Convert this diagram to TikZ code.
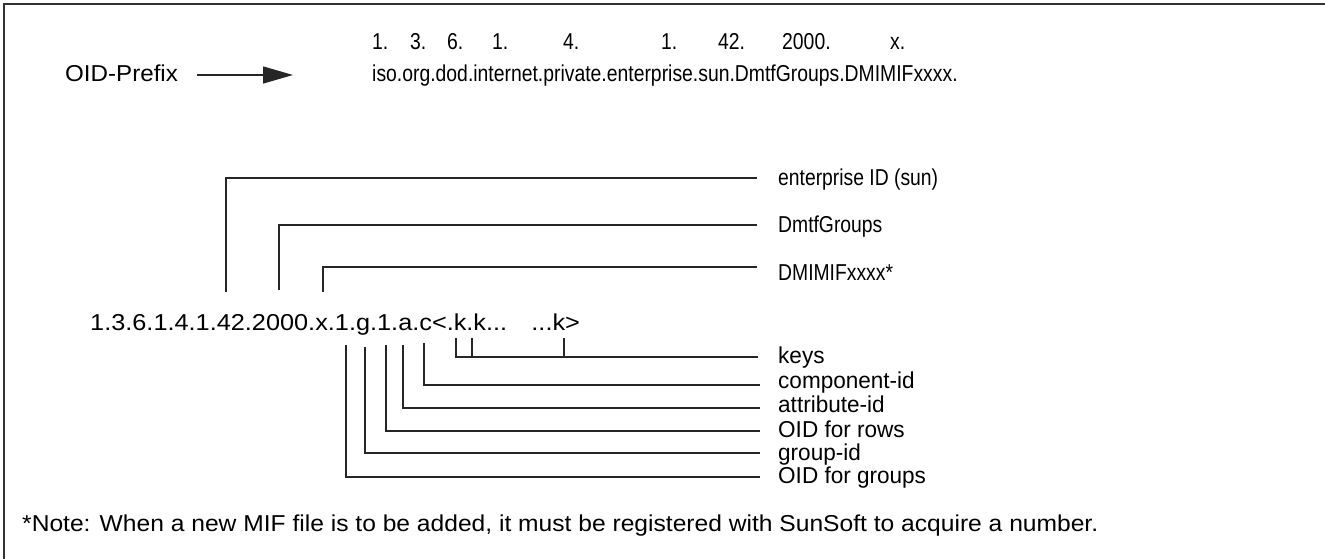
\documentclass[tikz,border=0pt]{standalone}
\usepackage{fontspec}
\setmainfont{Liberation Sans}
\usetikzlibrary{arrows.meta}
\newcommand{\xsq}[2]{\scalebox{#1}[1]{#2}}
\begin{document}
\begin{tikzpicture}[x=1pt,y=-1pt,
  txt/.style={inner sep=0pt, anchor=base west, font=\fontsize{23}{27}\selectfont},
  sml/.style={inner sep=0pt, anchor=base west, font=\fontsize{23}{27}\selectfont},
  ln/.style={line width=1.4pt, draw=black!85},
  tick/.style={line width=1.2pt, draw=black!85}]
\useasboundingbox (0,0) rectangle (1325,559);
\draw[line width=1.4pt, draw=black!80] (4,559) -- (4,4) -- (1325,4);

% header
\node[txt] (prefix) at (65,82) {\xsq{1.05}{OID-Prefix}};
\coordinate (a0) at (197,75);
\coordinate (a1) at (293,75);
\draw[ln, -{Triangle[length=30pt,width=17pt]}] (a0) -- (a1);
\node[txt] (iso) at (372,82) {\xsq{0.842}{iso.org.dod.internet.private.enterprise.sun.DmtfGroups.DMIMIFxxxx.}};
\node[txt] (n1) at (372,50) {\xsq{0.842}{1.}};
\node[txt] (n2) at (410,50) {\xsq{0.842}{3.}};
\node[txt] (n3) at (447,50) {\xsq{0.842}{6.}};
\node[txt] (n4) at (492,50) {\xsq{0.842}{1.}};
\node[txt] (n5) at (563,50) {\xsq{0.842}{4.}};
\node[txt] (n6) at (661,50) {\xsq{0.842}{1.}};
\node[txt] (n7) at (718,50) {\xsq{0.842}{42.}};
\node[txt] (n8) at (782,50) {\xsq{0.842}{2000.}};
\node[txt] (n9) at (890,50) {\xsq{0.842}{x.}};

% OID string
\node[txt] (oid) at (90,330) {\xsq{1.10}{1.3.6.1.4.1.42.2000.x.1.g.1.a.c<.k.k...\hspace{22pt}...k>}};

% top labels
\node[txt] (l1) at (778,185) {\xsq{0.84}{enterprise ID (sun)}};
\node[txt] (l2) at (778,232) {\xsq{0.84}{DmtfGroups}};
\node[txt] (l3) at (778,280) {\xsq{0.84}{DMIMIFxxxx*}};
\coordinate (v1) at (226,292); \coordinate (h1) at (757,178);
\coordinate (v2) at (279,290); \coordinate (h2) at (757,225);
\coordinate (v3) at (323,292); \coordinate (h3) at (757,267);
\draw[ln] (v1) |- (h1);
\draw[ln] (v2) |- (h2);
\draw[ln] (v3) |- (h3);

% bottom labels
\node[sml] (b1) at (778,363) {\xsq{0.98}{keys}};
\node[sml] (b2) at (778,388) {\xsq{0.98}{component-id}};
\node[sml] (b3) at (778,412) {\xsq{0.98}{attribute-id}};
\node[sml] (b4) at (778,437) {\xsq{0.98}{OID for rows}};
\node[sml] (b5) at (778,460) {\xsq{0.98}{group-id}};
\node[sml] (b6) at (778,483) {\xsq{0.98}{OID for groups}};

\coordinate (k1) at (456,338); \coordinate (k2) at (472,338); \coordinate (k3) at (564,338);
\coordinate (kh) at (758,357);
\draw[ln] (k1) |- (kh);
\draw[tick] (k2) -- (k2 |- kh);
\draw[tick] (k3) -- (k3 |- kh);
\coordinate (c0) at (424,343); \coordinate (ch) at (760,385);
\coordinate (a0b) at (403,345); \coordinate (ah) at (760,408);
\coordinate (r0) at (386,345); \coordinate (rh) at (760,431);
\coordinate (g0) at (365,347); \coordinate (gh) at (760,453);
\coordinate (o0) at (346,345); \coordinate (oh) at (760,477);
\draw[ln] (c0) |- (ch);
\draw[ln] (a0b) |- (ah);
\draw[ln] (r0) |- (rh);
\draw[ln] (g0) |- (gh);
\draw[ln] (o0) |- (oh);

% note
\node[txt] (note) at (22,531) {\xsq{1.07}{*Note: When a new MIF file is to be added, it must be registered with SunSoft to acquire a number.}};
\end{tikzpicture}
\end{document}
